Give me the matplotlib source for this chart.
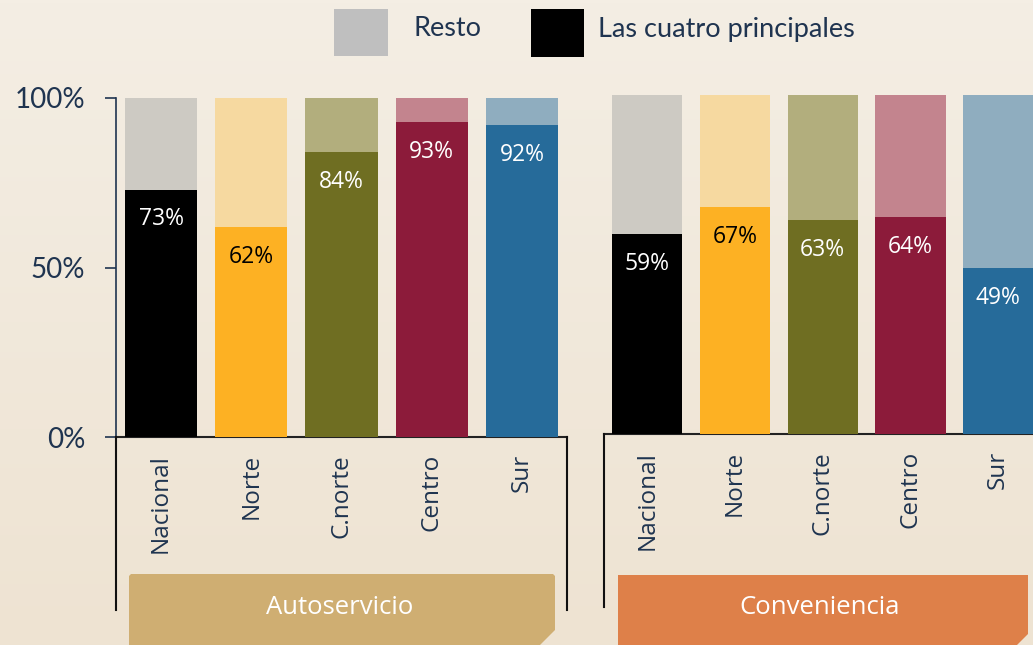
import numpy as np
import matplotlib
matplotlib.use("Agg")
from matplotlib import pyplot as plt
from matplotlib.patches import Polygon, Rectangle
from matplotlib.lines import Line2D

plt.rcParams['font.family'] = ['Lato', 'DejaVu Sans']
SANS = ['Open Sans', 'DejaVu Sans']

# data
regiones = ["Nacional", "Norte", "C.norte", "Centro", "Sur"]
autoservicio = [0.73, 0.62, 0.84, 0.93, 0.92]
conveniencia = [0.59, 0.67, 0.63, 0.64, 0.49]
grupos = ["Autoservicio", "Conveniencia"]
leyenda = ["Resto", "Las cuatro principales"]

# colors
oscuro = ["#000000", "#FDB123", "#6F6E22", "#8C1B3A", "#266B9A"]
claro = ["#CDCAC3", "#F6D9A0", "#B2AE7D", "#C3848E", "#8FADBF"]
etiqueta_color = ["white", "black", "white", "white", "white"]
navy = "#1F3450"

W, H = 1033, 645
fig = plt.figure(figsize=(W / 100, H / 100), dpi=100)

# gradient background
bg = fig.add_axes([0, 0, 1, 1], zorder=-10)
top = np.array([244, 238, 228]) / 255
bot = np.array([238, 227, 210]) / 255
t = np.linspace(0, 1, 200)[:, None, None]
grad = top * (1 - t) + bot * t
bg.imshow(np.repeat(grad, 2, axis=1), aspect="auto", extent=[0, 1, 0, 1])
bg.axis("off")

def px_box(x0, x1, y_bottom, y_top):
    return [x0 / W, 1 - y_bottom / H, (x1 - x0) / W, (y_bottom - y_top) / H]

def draw_panel(ax, values, show_y):
    x = np.arange(len(regiones))
    ax.bar(x, [1] * len(values), width=0.8, color=claro, zorder=2)
    ax.bar(x, values, width=0.8, color=oscuro, zorder=3)
    for i, v in enumerate(values):
        ax.annotate(f"{round(v * 100):.0f}%", (x[i], v), xytext=(0, -21.5),
                    textcoords="offset points", ha="center", va="center",
                    fontsize=16.5, color=etiqueta_color[i], zorder=4, family=SANS)
        ax.text(x[i], -0.05, regiones[i], rotation=90, ha="center", va="top",
                fontsize=17.5, color=navy, family=SANS)
    ax.set_xlim(-0.5, 4.5)
    ax.set_ylim(0, 1)
    ax.set_facecolor("none")
    ax.set_xticks([])
    for s in ["top", "right"]:
        ax.spines[s].set_visible(False)
    ax.spines["bottom"].set_color("#222222")
    ax.spines["bottom"].set_linewidth(1.5)
    if show_y:
        ax.set_yticks([0, 0.5, 1])
        ax.set_yticklabels(["0%", "50%", "100%"])
        ax.tick_params(axis="y", length=8, width=1.2, color=navy,
                       labelcolor=navy, labelsize=20, pad=14)
        ax.spines["left"].set_color(navy)
        ax.spines["left"].set_linewidth(1.2)
    else:
        ax.set_yticks([])
        ax.spines["left"].set_visible(False)

ax1 = fig.add_axes(px_box(116, 567, 437, 98))
draw_panel(ax1, autoservicio, True)
ax2 = fig.add_axes(px_box(603.5, 1042, 434, 95))
draw_panel(ax2, conveniencia, False)

# bracket lines below the axes
for (xp, y0, y1) in [(116, 437, 610), (567, 437, 610), (603.5, 434, 607)]:
    fig.add_artist(Line2D([xp / W, xp / W], [1 - y0 / H, 1 - y1 / H],
                          color="#111111", lw=1.5))

# group label boxes
cajas = [
    ([(129, 645), (129, 576), (131, 574), (553, 574), (555, 576), (555, 630), (540, 645)], "#CFAE72", 340),
    ([(618, 645), (618, 575), (1028, 575), (1028, 634), (1017, 645)], "#DE8049", 820),
]
for (pts, col, cx), nombre in zip(cajas, grupos):
    fig.add_artist(Polygon([(px / W, 1 - py / H) for px, py in pts], closed=True,
                           facecolor=col, edgecolor="none"))
    fig.text(cx / W, 1 - 608 / H, nombre, ha="center", va="center",
             fontsize=18.5, color="white", family=SANS)

# legend
fig.add_artist(Rectangle((334 / W, 1 - 56 / H), 54 / W, 47 / H,
                         facecolor="#BFBFBF", edgecolor="none"))
fig.text(413 / W, 1 - 29 / H, leyenda[0], ha="left", va="center",
         fontsize=19.5, color=navy)
fig.add_artist(Rectangle((531 / W, 1 - 57 / H), 53 / W, 48 / H,
                         facecolor="black", edgecolor="none"))
fig.text(598 / W, 1 - 29 / H, leyenda[1], ha="left", va="center",
         fontsize=19.5, color=navy)

fig.savefig("out.png", dpi=100)
